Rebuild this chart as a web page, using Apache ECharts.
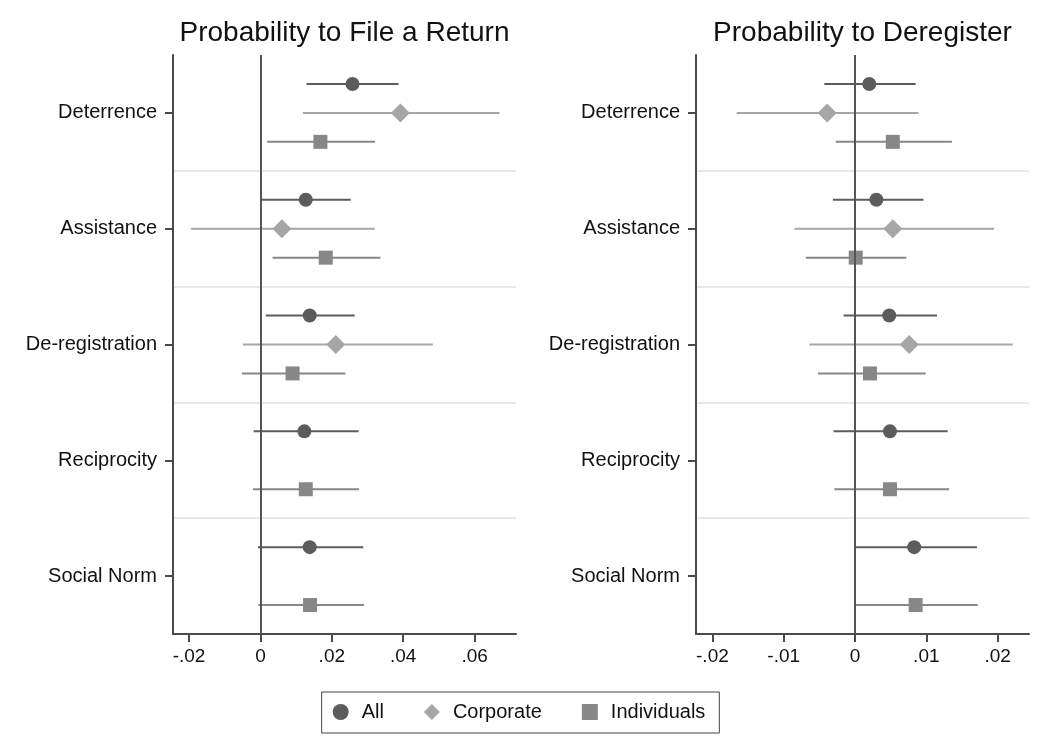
<!DOCTYPE html>
<html>
<head>
<meta charset="utf-8">
<script src="https://cdn.jsdelivr.net/npm/echarts@6/dist/echarts.min.js"></script>
<style>
  html, body { margin: 0; padding: 0; background: #fff; }
  #chart { width: 1038px; height: 749px; }
</style>
</head>
<body>
<div id="chart"></div>
<script>
// Treatment arms (rows, top to bottom)
const categories = ['Deterrence', 'Assistance', 'De-registration', 'Reciprocity', 'Social Norm'];
const groupNames = ['All', 'Corporate', 'Individuals'];
const panelTitles = ['Probability to File a Return', 'Probability to Deregister'];

// Point estimates with 95% CI: [estimate, lower, upper]; null = not estimated
const fileAll = [
  [0.0258, 0.0129, 0.0387],
  [0.0127, 0.0003, 0.0253],
  [0.0138, 0.0015, 0.0264],
  [0.0123, -0.0019, 0.0275],
  [0.0138, -0.0007, 0.0288]
];
const fileCorporate = [
  [0.0392, 0.0119, 0.0670],
  [0.0060, -0.0195, 0.0320],
  [0.0211, -0.0049, 0.0483],
  null,
  null
];
const fileIndividuals = [
  [0.0168, 0.0019, 0.0321],
  [0.0183, 0.0034, 0.0336],
  [0.0090, -0.0052, 0.0238],
  [0.0127, -0.0021, 0.0276],
  [0.0139, -0.0006, 0.0290]
];

const deregAll = [
  [0.0020, -0.0043, 0.0085],
  [0.0030, -0.0031, 0.0096],
  [0.0048, -0.0016, 0.0115],
  [0.0049, -0.0030, 0.0130],
  [0.0083, 0.0001, 0.0171]
];
const deregCorporate = [
  [-0.0039, -0.0166, 0.0089],
  [0.0053, -0.0085, 0.0195],
  [0.0076, -0.0064, 0.0221],
  null,
  null
];
const deregIndividuals = [
  [0.0053, -0.0027, 0.0136],
  [0.0001, -0.0069, 0.0072],
  [0.0021, -0.0052, 0.0099],
  [0.0049, -0.0029, 0.0132],
  [0.0085, 0.0001, 0.0172]
];

// Axis ranges and tick labels
const fileRange = [-0.0245, 0.0716];
const fileTicks = [-0.02, 0, 0.02, 0.04, 0.06];
const deregRange = [-0.0223, 0.0244];
const deregTicks = [-0.02, -0.01, 0, 0.01, 0.02];

const FONT = '"Liberation Sans", Arial, Helvetica, sans-serif';
const TEXT = '#111';
const AXIS = '#4a4a4a';
const groupColors = { All: '#5c5c5c', Corporate: '#a6a6a6', Individuals: '#878787' };
const groupOffsets = { All: -0.25, Corporate: 0, Individuals: 0.25 };
const groupShapes = { All: 'circle', Corporate: 'diamond', Individuals: 'square' };

function stataLabel(v) {
  if (v === 0) return '0';
  return String(Math.round(v * 1000) / 1000).replace('0.', '.');
}

function toData(rows) {
  const out = [];
  rows.forEach((r, i) => { if (r) out.push([r[0], r[1], r[2], categories[i]]); });
  return out;
}

function renderCoef(offset, shapeName) {
  return function (params, api) {
    const band = api.size([0, 1])[1];
    const cat = api.value(3);
    const c = api.coord([api.value(0), cat]);
    const lo = api.coord([api.value(1), cat]);
    const hi = api.coord([api.value(2), cat]);
    const y = c[1] + offset * band;
    const color = api.visual('color');
    const children = [{
      type: 'line',
      shape: { x1: lo[0], y1: y, x2: hi[0], y2: y },
      style: { stroke: color, lineWidth: 2 }
    }];
    const x = c[0];
    if (shapeName === 'circle') {
      children.push({ type: 'circle', shape: { cx: x, cy: y, r: 7 }, style: { fill: color } });
    } else if (shapeName === 'square') {
      children.push({ type: 'rect', shape: { x: x - 7, y: y - 7, width: 14, height: 14 }, style: { fill: color } });
    } else {
      const h = 9.5;
      children.push({
        type: 'polygon',
        shape: { points: [[x, y - h], [x + h, y], [x, y + h], [x - h, y]] },
        style: { fill: color }
      });
    }
    return { type: 'group', children: children };
  };
}

const panels = [
  { range: fileRange, ticks: fileTicks, data: { All: fileAll, Corporate: fileCorporate, Individuals: fileIndividuals } },
  { range: deregRange, ticks: deregTicks, data: { All: deregAll, Corporate: deregCorporate, Individuals: deregIndividuals } }
];

const grids = [
  { left: 173, top: 55, width: 343, height: 579 },
  { left: 696, top: 55, width: 333, height: 579 }
];

const xAxes = panels.map((p, i) => ({
  type: 'value',
  gridIndex: i,
  min: p.range[0],
  max: p.range[1],
  axisLine: { show: true, onZero: false, lineStyle: { color: AXIS, width: 2 } },
  axisTick: { show: true, customValues: p.ticks, length: 8, lineStyle: { color: AXIS, width: 2 } },
  axisLabel: {
    customValues: p.ticks, formatter: stataLabel, margin: 13,
    fontSize: 19, color: TEXT, fontFamily: FONT
  },
  splitLine: { show: false }
}));

const yAxes = panels.map((p, i) => ({
  type: 'category',
  gridIndex: i,
  data: categories,
  inverse: true,
  axisLine: { show: true, onZero: false, lineStyle: { color: AXIS, width: 2 } },
  axisTick: { show: true, alignWithLabel: true, length: 8, lineStyle: { color: AXIS, width: 2 } },
  axisLabel: { margin: 16, fontSize: 20, color: TEXT, fontFamily: FONT },
  splitLine: { show: true, showMinLine: false, showMaxLine: false, lineStyle: { color: '#e8e8e8', width: 2 } }
}));

const series = [];
panels.forEach((p, i) => {
  // vertical reference line at zero
  series.push({
    type: 'line', xAxisIndex: i, yAxisIndex: i, data: [], z: 1, silent: true,
    markLine: {
      silent: true, symbol: 'none', label: { show: false },
      lineStyle: { color: '#555', width: 2, type: 'solid' },
      data: [{ xAxis: 0 }]
    }
  });
  groupNames.forEach(g => {
    series.push({
      type: 'custom', name: g, xAxisIndex: i, yAxisIndex: i, z: 3,
      itemStyle: { color: groupColors[g] },
      encode: { x: [0, 1, 2], y: 3 },
      renderItem: renderCoef(groupOffsets[g], groupShapes[g]),
      data: toData(p.data[g])
    });
  });
});

const chart = echarts.init(document.getElementById('chart'), null, { renderer: 'canvas' });
chart.setOption({
  backgroundColor: '#fff',
  animation: false,
  title: panelTitles.map((t, i) => ({
    text: t,
    left: grids[i].left + grids[i].width / 2 - 5,
    top: 14,
    textAlign: 'center',
    textStyle: { fontSize: 28, fontWeight: 'normal', color: TEXT, fontFamily: FONT }
  })),
  legend: {
    data: [
      { name: 'All', icon: 'circle' },
      { name: 'Corporate', icon: 'diamond' },
      { name: 'Individuals', icon: 'rect' }
    ],
    left: 'center',
    top: 692,
    itemWidth: 16,
    itemHeight: 16,
    itemGap: 40,
    padding: [10, 14, 11, 11],
    borderColor: '#444',
    borderWidth: 1,
    backgroundColor: '#fff',
    selectedMode: false,
    textStyle: { fontSize: 20, color: TEXT, fontFamily: FONT, padding: [0, 0, 0, 8] }
  },
  grid: grids,
  xAxis: xAxes,
  yAxis: yAxes,
  series: series
});
</script>
</body>
</html>
